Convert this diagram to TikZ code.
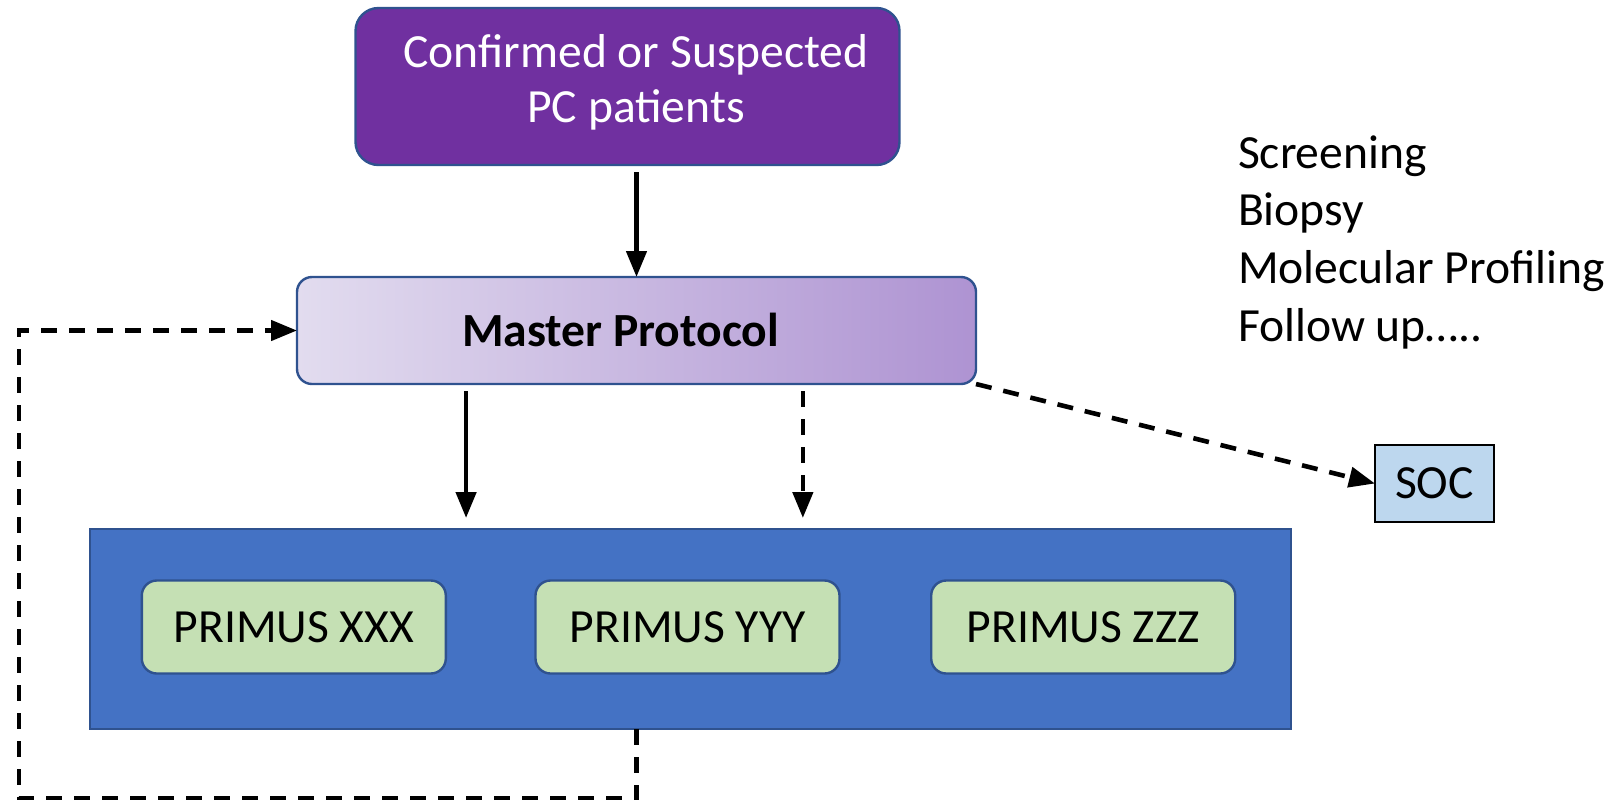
\documentclass[tikz,border=0pt]{standalone}
\usepackage{fontspec}
\setmainfont{Carlito}
\usetikzlibrary{arrows.meta,calc}

\definecolor{boxpurple}{HTML}{7030A0}
\definecolor{edgeblue}{HTML}{2F528F}
\definecolor{gradleft}{HTML}{E2DCEF}
\definecolor{gradright}{HTML}{AE93D2}
\definecolor{panelblue}{HTML}{4472C4}
\definecolor{armgreen}{HTML}{C5E0B4}
\definecolor{socblue}{HTML}{BDD7EE}

\begin{document}
\begin{tikzpicture}[x=0.5pt,y=-0.5pt,
  every node/.style={inner sep=0pt, outer sep=0pt},
  txt/.style={font=\fontsize{23.8pt}{27.5pt}\selectfont},
  box/.style={draw=edgeblue, line width=1.2pt},
  armbox/.style={box, fill=armgreen, rounded corners=7.5pt,
    minimum width=152pt, minimum height=46.5pt, txt},
  link/.style={line width=2.3pt, -{Triangle[length=13pt,width=10pt]}},
  dashlink/.style={link, dash pattern=on 8pt off 6pt}]

\useasboundingbox (0,0) rectangle (1616,804);

% entry box
\node[box, fill=boxpurple, rounded corners=11.5pt,
  minimum width=272pt, minimum height=78.5pt] (top) at (627.5,86.5) {};
\node[txt, text=white, align=center] (toptext) at (636,82)
  {Confirmed or Suspected\\PC patients};

% master protocol
\node[box, left color=gradleft, right color=gradright, rounded corners=7.5pt,
  minimum width=339.5pt, minimum height=53.5pt] (master) at (636.5,330.5) {};
\node[txt, font=\fontsize{23.8pt}{27.5pt}\selectfont\bfseries] (mastertext) at (620.5,330) {Master Protocol};

% list of activities
\node[txt, anchor=base west] (l1) at (1238,168) {Screening};
\node[txt, anchor=base west] (l2) at (1238,225.7) {Biopsy};
\node[txt, anchor=base west] (l3) at (1238,283.4) {Molecular Profiling};
\node[txt, anchor=base west] (l4) at (1238,341) {Follow up…..};

% standard of care
\node[draw=black, line width=0.8pt, fill=socblue, txt,
  minimum width=59.5pt, minimum height=38.5pt] (soc) at (1434.5,483.5) {SOC};

% sub-studies panel
\node[box, fill=panelblue, minimum width=600.5pt, minimum height=100pt] (panel) at (690.5,629) {};
\node[armbox] (xxx) at (293.8,627) {PRIMUS XXX};
\node[armbox] (yyy) at (687.5,627) {PRIMUS YYY};
\node[armbox] (zzz) at (1083.2,627) {PRIMUS ZZZ};

% start points of the two arrows into the panel
\coordinate (solidstart) at ($(master.south west)!0.249!(master.south east)$);
\coordinate (dashstart) at ($(master.south west)!0.745!(master.south east)$);

% connectors
\draw[link, shorten <=3.5pt] (master.north |- top.south) -- (master.north);
\draw[link, shorten <=3.5pt, shorten >=5.5pt] (solidstart) -- (solidstart |- panel.north);
\draw[dashlink, shorten <=3.5pt, shorten >=5.5pt] (dashstart) -- (dashstart |- panel.north);
\draw[dashlink] (master.south east) -- (soc.west);

% feedback loop back to the master protocol
\coordinate (loopcorner) at (19,798);
\draw[dashlink] (master.north |- panel.south) -- (master.north |- loopcorner)
  -- (loopcorner) -- (loopcorner |- master.west) -- (master.west);

\end{tikzpicture}
\end{document}
